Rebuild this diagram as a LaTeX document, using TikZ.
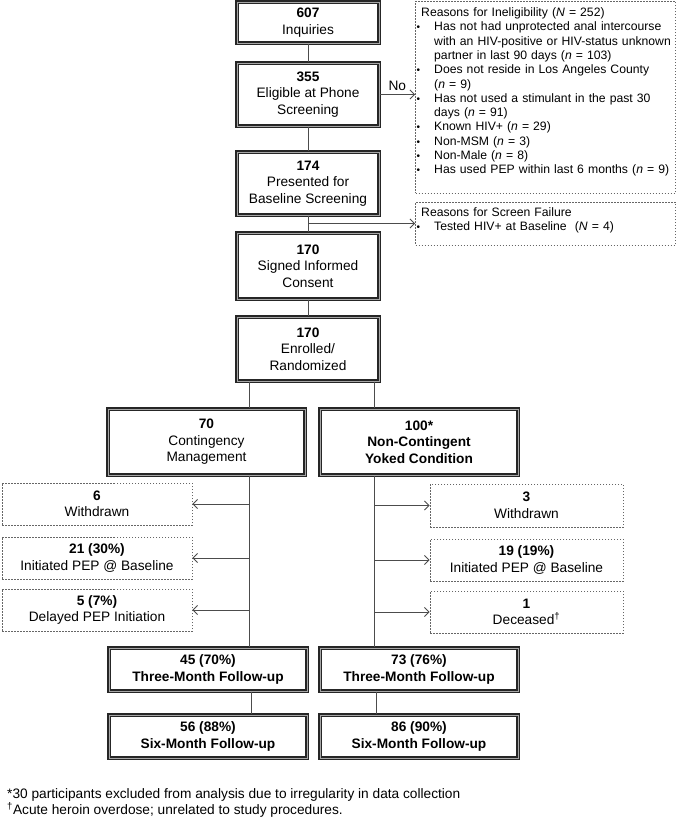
\documentclass[tikz,border=0pt]{standalone}
\usepackage{fontspec}
\setmainfont{Liberation Sans}
\usetikzlibrary{arrows.meta}
\newcommand\mainfs{\fontsize{13.7}{16.5}\selectfont}
\newcommand\smfs{\fontsize{12.2}{14.3}\selectfont}
\newcommand\bitem[1]{\par\hangindent=18pt\hangafter=1\noindent\makebox[18pt][l]{\hspace{0.5pt}{\fontsize{10}{10}\selectfont\textbullet}}#1}
\begin{document}
\begin{tikzpicture}[x=1pt,y=-1pt,
  mainbox/.style={draw=black!85, double=black!35, double distance=0.8pt, line width=1.15pt,
    fill=white, align=center, inner sep=2pt, font=\mainfs},
  dbox/.style={draw=black!60, dash pattern=on 1.5pt off 1.5pt, line width=0.8pt,
    align=center, inner sep=2pt, font=\mainfs},
  conn/.style={draw=black!70, line width=0.9pt},
  arr/.style={conn, -{Straight Barb[length=4.5pt,width=9pt]}},
  txt/.style={inner sep=0pt, align=left}]
\useasboundingbox (0,0) rectangle (677,820);
\fill[white] (0,0) rectangle (677,820);

% main column
\node[mainbox, minimum width=142, minimum height=41] (n607) at (308,22.5) {\textbf{607}\\Inquiries};
\node[mainbox, minimum width=142, minimum height=63] (n355) at (308,94.5) {\textbf{355}\\Eligible at Phone\\Screening};
\node[mainbox, minimum width=142, minimum height=63] (n174) at (308,183.5) {\textbf{174}\\Presented for\\Baseline Screening};
\node[mainbox, minimum width=142, minimum height=66] (sig) at (308,266) {\textbf{170}\\Signed Informed\\Consent};
\node[mainbox, minimum width=142, minimum height=64] (enr) at (308,349) {\textbf{170}\\Enrolled/\\Randomized};

% arms
\node[mainbox, minimum width=197, minimum height=66] (cm) at (206.5,442) {\textbf{70}\\Contingency\\Management};
\node[mainbox, minimum width=198, minimum height=66] (nc) at (419,442) {\textbf{100*}\\\textbf{Non-Contingent}\\\textbf{Yoked Condition}};

% left dashed boxes
\node[dbox, minimum width=190, minimum height=42] (lw) at (97,504) {\textbf{6}\\Withdrawn};
\node[dbox, minimum width=190, minimum height=42] (li) at (97,558) {\textbf{21 (30\%)}\\Initiated PEP @ Baseline};
\node[dbox, minimum width=190, minimum height=42] (ld) at (97,610) {\textbf{5 (7\%)}\\Delayed PEP Initiation};

% right dashed boxes
\node[dbox, minimum width=193, minimum height=43] (rw) at (526.5,505.5) {\textbf{3}\\Withdrawn};
\node[dbox, minimum width=193, minimum height=42] (ri) at (526.5,560) {\textbf{19 (19\%)}\\Initiated PEP @ Baseline};
\node[dbox, minimum width=193, minimum height=42] (rd) at (526.5,612) {\textbf{1}\\Deceased\textsuperscript{†}};

% follow-ups
\node[mainbox, minimum width=198, minimum height=43] (cm3) at (208,669.5) {\textbf{45 (70\%)}\\\textbf{Three-Month Follow-up}};
\node[mainbox, minimum width=198, minimum height=43] (nc3) at (419,669.5) {\textbf{73 (76\%)}\\\textbf{Three-Month Follow-up}};
\node[mainbox, minimum width=198, minimum height=43] (cm6) at (208,736.5) {\textbf{56 (88\%)}\\\textbf{Six-Month Follow-up}};
\node[mainbox, minimum width=198, minimum height=43] (nc6) at (419,736.5) {\textbf{86 (90\%)}\\\textbf{Six-Month Follow-up}};

% side info boxes
\node[dbox, minimum width=260, minimum height=192] (inel) at (545.5,97) {};
\node[txt, anchor=north west, text width=270pt, font=\smfs] (ineltxt) at (416,7.5) {%
\hspace*{5pt}Reasons for Ineligibility (\textit{N} = 252)
\bitem{Has not had unprotected anal intercourse\newline with an HIV-positive or HIV-status unknown\newline partner in last 90 days (\textit{n} = 103)}
\bitem{Does not reside in Los Angeles County\newline (\textit{n} = 9)}
\bitem{Has not used a stimulant in the past 30\newline days (\textit{n} = 91)}
\bitem{Known HIV+ (\textit{n} = 29)}
\bitem{Non-MSM (\textit{n} = 3)}
\bitem{Non-Male (\textit{n} = 8)}
\bitem{Has used PEP within last 6 months (\textit{n} = 9)}};

\node[dbox, minimum width=260, minimum height=43] (sf) at (545.5,223.5) {};
\node[txt, anchor=north west, text width=270pt, font=\smfs] (sftxt) at (416,207.5) {%
\hspace*{5pt}Reasons for Screen Failure
\bitem{Tested HIV+ at Baseline\ \ (\textit{N} = 4)}};

% connectors main column
\draw[conn] (n607) -- (n355);
\draw[conn] (n355) -- (n174);
\draw[conn] (n174) -- (sig);
\draw[conn] (sig) -- (enr);
\draw[arr] (n355.east) -- (inel.west |- n355.east) node[midway, above=2pt, font=\mainfs, inner sep=1pt] (no) {No};
\coordinate (sfj) at (308,223.5);
\draw[arr] (sfj) -- (sf.west);

\coordinate (lt) at (249,0);
\coordinate (rt) at (374,0);
\coordinate (lt2) at (251,0);
\coordinate (rt2) at (376,0);
\draw[conn] (enr.south -| lt) -- (cm.north -| lt);
\draw[conn] (enr.south -| rt) -- (nc.north -| rt);
\draw[conn] (cm.south -| lt) -- (cm3.north -| lt);
\draw[conn] (nc.south -| rt) -- (nc3.north -| rt);
\draw[conn] (cm3.south -| lt2) -- (cm6.north -| lt2);
\draw[conn] (nc3.south -| rt2) -- (nc6.north -| rt2);

\draw[arr] (lw.east -| lt) -- (lw.east);
\draw[arr] (li.east -| lt) -- (li.east);
\draw[arr] (ld.east -| lt) -- (ld.east);
\draw[arr] (rw.west -| rt) -- (rw.west);
\draw[arr] (ri.west -| rt) -- (ri.west);
\draw[arr] (rd.west -| rt) -- (rd.west);

% footnotes
\node[txt, anchor=west, font=\mainfs] (fn1) at (7,795) {*30 participants excluded from analysis due to irregularity in data collection};
\node[txt, anchor=west, font=\mainfs] (fn2) at (7,810) {\textsuperscript{†}Acute heroin overdose; unrelated to study procedures.};
\end{tikzpicture}
\end{document}
